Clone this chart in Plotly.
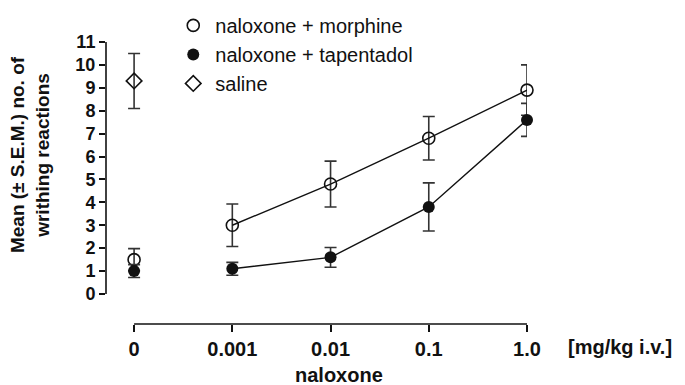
import plotly.graph_objects as go

# ---- data ----
dose_labels = ["0", "0.001", "0.01", "0.1", "1.0"]
dose_pos = [0, 1, 2, 3, 4]

morphine_ctrl = [1.5]
morphine_ctrl_err = [0.48]
morphine_vals = [3.0, 4.8, 6.8, 8.9]
morphine_err = [0.93, 1.0, 0.95, 1.1]

tapentadol_ctrl = [1.0]
tapentadol_ctrl_err = [0.28]
tapentadol_vals = [1.1, 1.6, 3.8, 7.6]
tapentadol_err = [0.28, 0.43, 1.05, 0.72]

saline_vals = [9.3]
saline_err = [1.2]

FONT = "Liberation Sans, Arial, sans-serif"
INK = "#111111"
ERR = "#333333"

def eb(arr):
    return dict(type="data", array=arr, visible=True, color=ERR, thickness=1.6, width=6)

fig = go.Figure()

# connected dose-response lines
fig.add_trace(go.Scatter(
    x=dose_pos[1:], y=morphine_vals, mode="lines+markers",
    line=dict(color=INK, width=1.4),
    marker=dict(symbol="circle-open", size=12, color=INK, line=dict(width=1.6)),
    error_y=eb(morphine_err), showlegend=False, cliponaxis=False))
fig.add_trace(go.Scatter(
    x=dose_pos[1:], y=tapentadol_vals, mode="lines+markers",
    line=dict(color=INK, width=1.4),
    marker=dict(symbol="circle", size=12, color=INK),
    error_y=eb(tapentadol_err), showlegend=False, cliponaxis=False))

# control points at dose 0 (legend entries)
fig.add_trace(go.Scatter(
    x=dose_pos[:1], y=morphine_ctrl, mode="markers", name="naloxone + morphine",
    legendgroup="a",
    marker=dict(symbol="circle-open", size=12, color=INK, line=dict(width=1.6)),
    error_y=eb(morphine_ctrl_err), cliponaxis=False))
fig.add_trace(go.Scatter(
    x=dose_pos[:1], y=tapentadol_ctrl, mode="markers", name="naloxone + tapentadol",
    legendgroup="b",
    marker=dict(symbol="circle", size=12, color=INK),
    error_y=eb(tapentadol_ctrl_err), cliponaxis=False))
fig.add_trace(go.Scatter(
    x=dose_pos[:1], y=saline_vals, mode="markers", name="saline",
    legendgroup="c",
    marker=dict(symbol="diamond-open", size=12, color=INK, line=dict(width=1.6)),
    error_y=eb(saline_err), cliponaxis=False))

# axis lines (partial, like the original)
fig.add_shape(type="line", xref="paper", yref="y", x0=0, x1=0, y0=0, y1=11,
              line=dict(color=INK, width=1.6))
fig.add_shape(type="line", xref="x", yref="paper", x0=dose_pos[0], x1=dose_pos[-1], y0=0, y1=0,
              line=dict(color=INK, width=1.6))

fig.update_layout(
    width=685, height=385,
    margin=dict(l=106, r=158, t=42, b=61, autoexpand=False),
    plot_bgcolor="white", paper_bgcolor="white",
    font=dict(family=FONT, color=INK),
    showlegend=True,
    legend=dict(x=0.155, xanchor="left", y=1.128, yanchor="top",
                font=dict(size=20, family=FONT, color=INK),
                itemwidth=34,
                tracegroupgap=0, bgcolor="rgba(0,0,0,0)"),
    xaxis=dict(range=[-0.286, 4], tickvals=dose_pos, ticktext=dose_labels,
               showgrid=False, zeroline=False, showline=False,
               ticks="outside", ticklen=7, tickwidth=1.6, tickcolor=INK,
               tickfont=dict(size=20, family=FONT, weight="bold", color=INK)),
    yaxis=dict(range=[-1.31, 11], tickvals=list(range(0, 12)),
               showgrid=False, zeroline=False, showline=False,
               ticks="outside", ticklen=6, tickwidth=1.6, tickcolor=INK,
               tickfont=dict(size=18, family=FONT, weight="bold", color=INK)),
    annotations=[
        dict(text="Mean (± S.E.M.) no. of<br>writhing reactions", xref="paper", yref="paper",
             x=0, y=0.599, xanchor="center", yanchor="middle", xshift=-76,
             textangle=-90, showarrow=False,
             font=dict(size=19, family=FONT, weight="bold", color=INK)),
        dict(text="naloxone", xref="paper", yref="paper", x=0.553, y=0,
             xanchor="center", yanchor="middle", yshift=-51, showarrow=False,
             font=dict(size=20, family=FONT, weight="bold", color=INK)),
        dict(text="[mg/kg i.v.]", xref="paper", yref="paper", x=1.221, y=0,
             xanchor="center", yanchor="middle", yshift=-23, showarrow=False,
             font=dict(size=20, family=FONT, weight="bold", color=INK)),
    ],
)

fig.write_html("out.html")
